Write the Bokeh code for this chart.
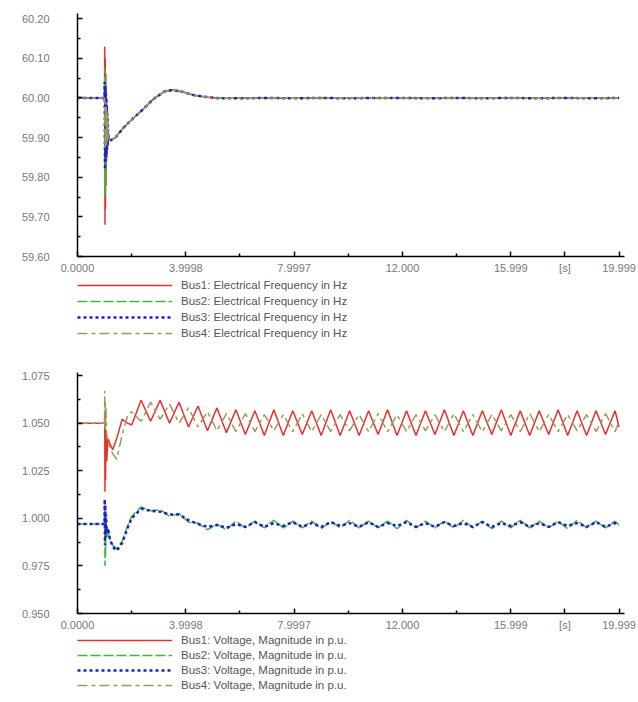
from bokeh.plotting import figure
from bokeh.models import Range1d, FixedTicker, PrintfTickFormatter, Legend, LegendItem
from bokeh.layouts import column
from bokeh.embed import file_html
from bokeh.resources import INLINE

# ---------------- data ----------------
X_TICKS = [0, 4, 8, 12, 16, 18, 20]
X_MINOR = [2, 6, 10, 14]
X_LABELS = {0: "0.0000", 4: "3.9998", 8: "7.9997", 12: "12.000", 16: "15.999", 18: "[s]", 20: "19.999"}

F_TICKS = [59.6, 59.7, 59.8, 59.9, 60.0, 60.1, 60.2]
F_MINOR = [59.65, 59.75, 59.85, 59.95, 60.05, 60.15]
V_TICKS = [0.95, 0.975, 1.0, 1.025, 1.05, 1.075]
V_MINOR = [0.9625, 0.9875, 1.0125, 1.0375, 1.0625]

F_LABELS = ["Bus1: Electrical Frequency in Hz", "Bus2: Electrical Frequency in Hz",
            "Bus3: Electrical Frequency in Hz", "Bus4: Electrical Frequency in Hz"]
V_LABELS = ["Bus1: Voltage, Magnitude in p.u.", "Bus2: Voltage, Magnitude in p.u.",
            "Bus3: Voltage, Magnitude in p.u.", "Bus4: Voltage, Magnitude in p.u."]

# frequency (Hz)
T_F = [0.0, 1.0, 1.005, 1.015, 1.025, 1.035, 1.045, 1.055, 1.065, 1.075, 1.085, 1.095, 1.105, 1.115, 1.125,
       1.15, 1.22, 1.4, 1.7, 2.0, 2.4, 2.8, 3.2, 3.5, 3.9, 4.3, 4.8, 5.3, 6.0, 7.0, 8.0, 9.0, 10.0,
       11.0, 12.0, 13.0, 14.0, 15.0, 16.0, 17.0, 18.0, 19.0, 20.0]
F1_FAULT = [60.00, 60.00, 60.13, 59.68, 60.10, 59.72, 60.06, 59.78, 60.02, 59.84, 59.98, 59.87, 59.95, 59.88, 59.92]
F2_FAULT = [60.00, 60.00, 60.075, 59.75, 60.05, 59.78, 60.03, 59.82, 60.01, 59.85, 59.98, 59.87, 59.95, 59.88, 59.92]
F3_FAULT = [60.00, 60.00, 60.04, 59.82, 60.03, 59.84, 60.01, 59.85, 60.00, 59.86, 59.98, 59.87, 59.96, 59.88, 59.92]
F4_FAULT = [60.00, 60.00, 59.99, 59.87, 59.99, 59.88, 59.99, 59.88, 59.98, 59.88, 59.97, 59.89, 59.96, 59.89, 59.92]
F_REC = [59.90, 59.893, 59.90, 59.925, 59.945, 59.97, 59.997, 60.016, 60.02, 60.015, 60.007, 60.002, 59.999,
         59.999, 60.000, 59.999, 60.000, 59.999, 60.000, 60.000, 59.999, 60.000, 59.999, 60.000, 59.999,
         60.000, 59.999, 60.000]

# voltage (p.u.)
T_V = [0.0, 1.0, 1.005, 1.015, 1.025, 1.035, 1.05, 1.08, 1.12, 1.2, 1.3, 1.45, 1.65, 1.85, 2.0,
       2.35, 2.7, 3.05, 3.4, 3.75, 4.1, 4.45, 4.8, 5.15, 5.5,
       5.85, 6.2, 6.55, 6.9, 7.25, 7.6, 7.95, 8.3, 8.65, 9.0,
       9.35, 9.7, 10.05, 10.4, 10.75, 11.1, 11.45, 11.8, 12.15, 12.5,
       12.85, 13.2, 13.55, 13.9, 14.25, 14.6, 14.95, 15.3, 15.65, 16.0,
       16.35, 16.7, 17.05, 17.4, 17.75, 18.1, 18.45, 18.8, 19.15, 19.5,
       19.85, 20.0]
V1 = [1.050, 1.050, 1.056, 1.014, 1.053, 1.020, 1.046, 1.030, 1.042, 1.039, 1.036, 1.042, 1.052, 1.050, 1.049,
      1.062, 1.051, 1.062, 1.050, 1.061, 1.048, 1.059, 1.046, 1.058, 1.045,
      1.057, 1.044, 1.0565, 1.0435, 1.057, 1.0435, 1.0565, 1.044, 1.0565, 1.0435,
      1.057, 1.0435, 1.0565, 1.0435, 1.0565, 1.044, 1.057, 1.0435, 1.0565, 1.0435,
      1.0565, 1.044, 1.057, 1.0435, 1.0565, 1.0435, 1.0565, 1.044, 1.057, 1.0435,
      1.0565, 1.0435, 1.0565, 1.044, 1.057, 1.0435, 1.0565, 1.0435, 1.0565, 1.044,
      1.0565, 1.048]
V2 = [0.997, 0.997, 1.004, 0.975, 1.002, 0.980, 0.998, 0.990, 0.994, 0.989, 0.986, 0.984, 0.988, 0.996, 1.001,
      1.006, 1.004, 1.0045, 1.001, 1.0025, 0.998, 0.9975, 0.994, 0.997, 0.994,
      0.9985, 0.995, 0.9985, 0.995, 0.999, 0.995, 0.9985, 0.995, 0.9985, 0.9945,
      0.9985, 0.995, 0.999, 0.995, 0.9985, 0.995, 0.9985, 0.9945, 0.999, 0.995,
      0.9985, 0.995, 0.9985, 0.995, 0.999, 0.995, 0.9985, 0.9945, 0.9985, 0.995,
      0.999, 0.995, 0.9985, 0.995, 0.9985, 0.9945, 0.999, 0.995, 0.9985, 0.995,
      0.9985, 0.9965]
V3 = [0.997, 0.997, 1.010, 0.986, 1.007, 0.990, 1.002, 0.993, 0.995, 0.989, 0.985, 0.983, 0.987, 0.995, 1.000,
      1.005, 1.004, 1.0035, 1.002, 1.002, 0.999, 0.997, 0.9955, 0.9965, 0.995,
      0.997, 0.9955, 0.998, 0.9955, 0.9975, 0.996, 0.998, 0.9955, 0.9975, 0.9955,
      0.998, 0.996, 0.9975, 0.9955, 0.998, 0.9955, 0.9975, 0.996, 0.998, 0.9955,
      0.9975, 0.9955, 0.998, 0.996, 0.9975, 0.9955, 0.998, 0.9955, 0.9975, 0.996,
      0.998, 0.9955, 0.9975, 0.9955, 0.998, 0.996, 0.9975, 0.9955, 0.998, 0.9955,
      0.9975, 0.9965]
V4 = [1.050, 1.050, 1.067, 1.046, 1.062, 1.048, 1.058, 1.044, 1.040, 1.037, 1.034, 1.031, 1.044, 1.054, 1.056,
      1.051, 1.061, 1.052, 1.060, 1.050, 1.058, 1.048, 1.056, 1.046, 1.055,
      1.0455, 1.055, 1.0455, 1.0545, 1.046, 1.0545, 1.0455, 1.055, 1.0455, 1.0545,
      1.0455, 1.0545, 1.046, 1.0545, 1.0455, 1.055, 1.0455, 1.0545, 1.0455, 1.0545,
      1.046, 1.0545, 1.0455, 1.055, 1.0455, 1.0545, 1.0455, 1.0545, 1.046, 1.0545,
      1.0455, 1.055, 1.0455, 1.0545, 1.0455, 1.0545, 1.046, 1.0545, 1.0455, 1.055,
      1.0455, 1.051]

# ---------------- styles ----------------
COLORS = ["#e8302a", "#3cb83c", "#1f1fcc", "#9a9a5c"]
DASHES = ["solid", "10 3", "3 3", "10 4 4 4"]
WIDTHS = [1.5, 1.5, 2.5, 1.5]
FONT = "Liberation Sans"
W = 636


def make_plot(y_range, yticks, yminor, yfmt, height, top, bottom, xs, series):
    p = figure(width=W, height=height, x_range=Range1d(0, 20.2), y_range=y_range,
               output_backend="svg", toolbar_location=None,
               min_border_left=77, min_border_right=12, min_border_top=top, min_border_bottom=bottom)
    p.grid.visible = False
    p.outline_line_color = None
    for ax in (p.xaxis[0], p.yaxis[0]):
        ax.axis_line_color = "black"
        ax.axis_line_width = 1.5
        ax.major_tick_line_color = "black"
        ax.major_tick_line_width = 1.5
        ax.minor_tick_line_color = "black"
        ax.minor_tick_line_width = 1.5
        ax.major_tick_in = 5
        ax.major_tick_out = 0
        ax.minor_tick_in = 3
        ax.minor_tick_out = 0
        ax.major_label_text_font = FONT
        ax.major_label_text_font_size = "11px"
        ax.major_label_text_color = "#777777"
    p.xaxis[0].ticker = FixedTicker(ticks=X_TICKS, minor_ticks=X_MINOR)
    p.xaxis[0].major_label_overrides = X_LABELS
    p.xaxis[0].major_label_standoff = 5
    p.yaxis[0].ticker = FixedTicker(ticks=yticks, minor_ticks=yminor)
    p.yaxis[0].formatter = PrintfTickFormatter(format=yfmt)
    p.yaxis[0].major_label_standoff = 28
    for ys, c, d, w in zip(series, COLORS, DASHES, WIDTHS):
        p.line(xs, ys, line_color=c, line_dash=d, line_width=w)
    return p


def make_legend(labels, height, spacing, y, xs, series):
    # legend-only strip: the series are drawn far outside its (empty) view, only the key shows
    q = figure(width=W, height=height, x_range=Range1d(100, 101), y_range=Range1d(100, 101),
               x_axis_type=None, y_axis_type=None, output_backend="svg", toolbar_location=None,
               min_border=0)
    q.grid.visible = False
    q.outline_line_color = None
    items = []
    for ys, c, d, w, lab in zip(series, COLORS, DASHES, WIDTHS, labels):
        r = q.line(xs, ys, line_color=c, line_dash=d, line_width=w)
        items.append(LegendItem(label=lab, renderers=[r]))
    leg = Legend(items=items, location=(0, y), orientation="vertical",
                 glyph_width=95, glyph_height=12, label_height=12, spacing=spacing,
                 padding=0, margin=0, label_standoff=9,
                 label_text_font=FONT, label_text_font_size="11.5px", label_text_color="#555555",
                 border_line_color=None, background_fill_alpha=0)
    q.add_layout(leg, "center")
    return q


FREQ = [F1_FAULT + F_REC, F2_FAULT + F_REC, F3_FAULT + F_REC, F4_FAULT + F_REC]
VOLT = [V1, V2, V3, V4]
p1 = make_plot(Range1d(59.6, 60.213), F_TICKS, F_MINOR, "%.2f", 278, 13, 22, T_F, FREQ)
l1 = make_legend(F_LABELS, 72, 4, 11, T_F, FREQ)
p2 = make_plot(Range1d(0.95, 1.0766), V_TICKS, V_MINOR, "%.3f", 283, 22, 20, T_V, VOLT)
l2 = make_legend(V_LABELS, 62, 3, 4, T_V, VOLT)

layout = column(p1, l1, p2, l2, spacing=0)
open("out.html", "w").write(file_html(layout, INLINE))
